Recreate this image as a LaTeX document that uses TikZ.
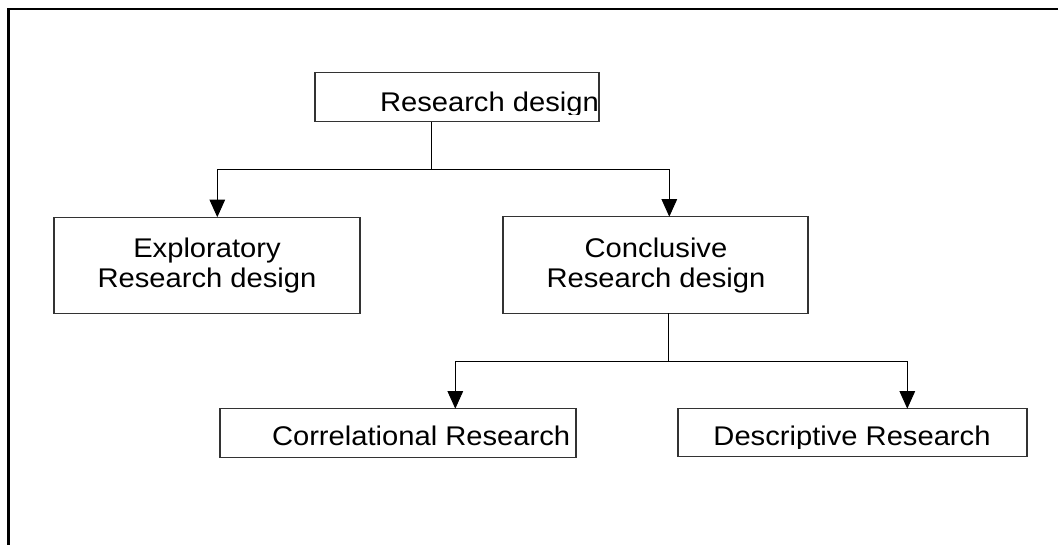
\documentclass[tikz,border=0pt]{standalone}
\usepackage{fontspec}
\setmainfont{Liberation Sans}[FakeStretch=1.08]
\usetikzlibrary{arrows.meta}
\begin{document}
\begin{tikzpicture}[x=1pt,y=-1pt,
  box/.style={draw=black!80, line width=1.3pt, fill=white, inner sep=0pt, outer sep=0pt},
  txt/.style={inner sep=0pt, outer sep=0pt, font=\fontsize{27}{30}\selectfont, anchor=base},
  conn/.style={draw=black, line width=1pt},
  arr/.style={conn, -{Triangle[length=17.5pt,width=15.5pt]}},
  frame/.style={draw=black, line width=2.6pt}]
\useasboundingbox (0,0) rectangle (1058,544);
\clip (0,0) rectangle (1058,544);
\draw[frame] (8.5,9) rectangle (1090,580);
% boxes
\node[box, minimum width=284pt, minimum height=49pt] (rd) at (457,97.2) {};
\node[box, minimum width=306pt, minimum height=96pt] (ex) at (207,265.2) {};
\node[box, minimum width=305pt, minimum height=96.6pt] (co) at (655.5,265) {};
\node[box, minimum width=356pt, minimum height=49pt] (cr) at (398,433.2) {};
\node[box, minimum width=349pt, minimum height=48pt] (de) at (852.5,432.7) {};
% texts
\begin{scope}
  \clip (rd.north west) rectangle (599,114);
  \node[txt, anchor=base west] (trd) at (380,111) {Research design};
\end{scope}
\node[txt] (tex1) at (207,257.7) {Exploratory};
\node[txt] (tex2) at (207,287.7) {Research design};
\node[txt] (tco1) at (656,257) {Conclusive};
\node[txt] (tco2) at (656,287.7) {Research design};
\node[txt, anchor=base west] (tcr) at (272,445) {Correlational Research};
\begin{scope}
  \clip (de.north west) rectangle (1027,448);
  \node[txt] (tde) at (852,445) {Descriptive Research};
\end{scope}
% connectors
\coordinate (j1) at (431,169);
\coordinate (a1) at (217.3,169);
\coordinate (a2) at (669.3,169);
\draw[conn] (j1 |- rd.south) -- (j1);
\draw[arr] (j1) -- (a1) -- (a1 |- ex.north);
\draw[arr] (j1) -- (a2) -- (a2 |- co.north);
\coordinate (j2) at (668.7,361);
\coordinate (b1) at (455.3,361);
\coordinate (b2) at (907.3,361);
\draw[conn] (j2 |- co.south) -- (j2);
\draw[arr] (j2) -- (b1) -- (b1 |- cr.north);
\draw[arr] (j2) -- (b2) -- (b2 |- de.north);
\end{tikzpicture}
\end{document}
